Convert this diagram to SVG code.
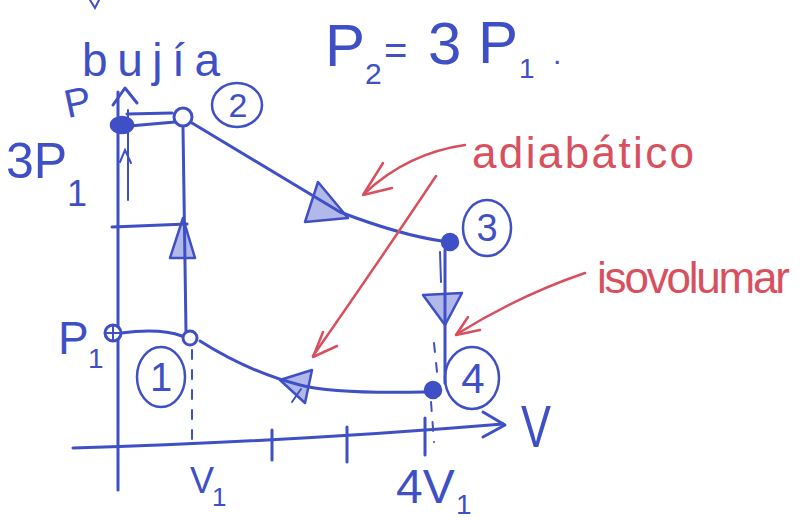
<svg xmlns="http://www.w3.org/2000/svg" width="801" height="520" viewBox="0 0 801 520">
<defs>
<style>
.ink{fill:none;stroke:#3f50c6;stroke-width:3;stroke-linecap:round;stroke-linejoin:round}
.thin{fill:none;stroke:#3f50c6;stroke-width:2;stroke-linecap:round}
.dash{fill:none;stroke:#3f50c6;stroke-width:2;stroke-dasharray:9 11;stroke-linecap:round}
.head{fill:#3f50c6;fill-opacity:0.4;stroke:#3f50c6;stroke-width:2.5;stroke-linejoin:round}
.dot{fill:#3f50c6;stroke:#3f50c6;stroke-width:2.5}
.ring{fill:#fff;stroke:#3f50c6;stroke-width:3}
.lab{fill:none;stroke:#3f50c6;stroke-width:2.5}
.red{fill:none;stroke:#d8505e;stroke-width:2.5;stroke-linecap:round;stroke-linejoin:round}
.bt{font-family:"Liberation Sans",Arial,sans-serif;fill:#3f50c6}
.rt{font-family:"Liberation Sans",Arial,sans-serif;fill:#d8505e}
</style>
</defs>
<rect width="801" height="520" fill="#ffffff"/>

<g id="axes">
  <path class="ink" d="M118,490 L118,92"/>
  <path class="ink" d="M113,105 L125,88 L137,103"/>
  <path class="thin" d="M128,110 L128,200"/>
  <path class="thin" d="M120,162 L125,150 L131,163"/>
  <path class="ink" d="M73,448 Q300,441 503,424"/>
  <path class="ink" d="M483,412 L505,425 L483,437"/>
  <path class="ink" d="M272,430 L272,460 M347,427 L347,462 M425,418 L425,455"/>
  <path class="thin" d="M90,0 L95,8 L99,0"/>
  <text class="bt" font-size="40" x="64" y="116" transform="rotate(-12 76 100)">P</text>
  <text class="bt" font-size="60" x="521" y="447" textLength="30" lengthAdjust="spacingAndGlyphs">V</text>
  <text class="bt" font-size="36" x="190" y="493">V<tspan font-size="26" x="212" y="506">1</tspan></text>
  <text class="bt" font-size="48" x="396" y="503">4V<tspan font-size="28" x="456" y="514">1</tspan></text>
  <text class="bt" font-size="46" x="58" y="354">P<tspan font-size="28" x="88" y="368">1</tspan></text>
  <text class="bt" font-size="50" x="6" y="178">3P<tspan font-size="36" x="67" y="206">1</tspan></text>
</g>

<g id="title">
  <text class="bt" font-size="60"><tspan x="325" y="66">P</tspan><tspan font-size="30" x="365" y="84">2</tspan><tspan font-size="40" x="384" y="64">=</tspan><tspan x="428" y="64">3</tspan><tspan x="478" y="63">P</tspan><tspan font-size="28" x="519" y="78">1</tspan><tspan font-size="30" x="553" y="64">.</tspan></text>
  <text class="bt" font-size="46" x="82" y="76" textLength="138" lengthAdjust="spacing">bujía</text>
</g>

<g id="connectors">
  <path class="ink" d="M186,332 L183,127"/>
  <polygon class="head" points="170,258 183,218 195,258"/>
  <path class="ink" d="M192,123 Q270,170 340,212 Q400,235 442,241"/>
  <polygon class="head" points="318,182 305,222 348,218"/>
  <path class="ink" d="M445,250 L445,383"/>
  <path class="thin" d="M440,252 L441,282"/>
  <polygon class="head" points="423,295 462,293 445,325"/>
  <path class="ink" d="M425,392 C380,393 330,393 300,385 C265,376 230,360 200,341"/>
  <polygon class="head" points="280,380 312,370 305,403"/>
  <path class="thin" d="M292,402 L301,389"/>
  <path class="ink" d="M121,333 Q160,328 182,336"/>
  <path class="ink" d="M127,114 L172,113 M118,127 L175,122"/>
  <path class="ink" d="M112,227 L187,224"/>
  <path class="dash" d="M192,350 L192,443"/>
  <path class="dash" d="M434,343 L437,372"/>
  <path class="dash" d="M431,402 L434,442"/>
</g>

<g id="state1">
  <circle class="ring" cx="190" cy="338" r="7"/>
  <ellipse class="lab" cx="161" cy="377" rx="24" ry="30"/>
  <text class="bt" font-size="40" x="161" y="391" text-anchor="middle">1</text>
</g>
<g id="stateP1">
  <circle class="ring" cx="113" cy="333" r="8"/>
  <path class="thin" d="M105,333 L121,333 M113,325 L113,341"/>
</g>
<g id="state2">
  <circle class="ring" cx="183" cy="117" r="9"/>
  <ellipse class="dot" cx="122" cy="125" rx="11" ry="8"/>
  <ellipse class="lab" cx="237" cy="105" rx="25" ry="22"/>
  <text class="bt" font-size="34" x="238" y="117" text-anchor="middle">2</text>
</g>
<g id="state3">
  <circle class="dot" cx="450" cy="242" r="8"/>
  <ellipse class="lab" cx="487" cy="228" rx="24" ry="28"/>
  <text class="bt" font-size="38" x="487" y="241" text-anchor="middle">3</text>
</g>
<g id="state4">
  <circle class="dot" cx="433" cy="390" r="8"/>
  <ellipse class="lab" cx="472" cy="378" rx="27" ry="31"/>
  <text class="bt" font-size="42" x="473" y="393" text-anchor="middle">4</text>
</g>

<g id="notes">
  <text class="rt" font-size="44" x="472" y="168" textLength="222" lengthAdjust="spacing">adiabático</text>
  <path class="red" d="M465,145 C430,150 395,165 365,193"/>
  <path class="red" d="M383,163 L363,195 L392,188"/>
  <path class="red" d="M436,176 Q380,260 313,356"/>
  <path class="red" d="M323,332 L313,357 L337,346"/>
  <text class="rt" font-size="44" x="597" y="293" textLength="193" lengthAdjust="spacing">isovolumar</text>
  <path class="red" d="M585,273 Q520,295 457,334"/>
  <path class="red" d="M468,317 L456,335 L480,330"/>
</g>
</svg>
